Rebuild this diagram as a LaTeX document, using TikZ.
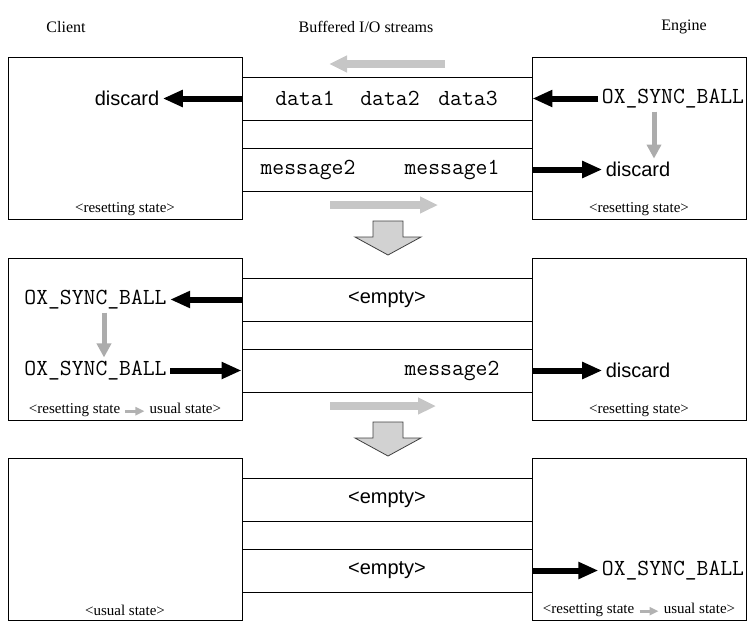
\documentclass[tikz,border=0pt]{standalone}
\usepackage{fontspec}
\setmainfont{Liberation Serif}
\newfontfamily\helv{Liberation Sans}
\usetikzlibrary{arrows.meta}

% small grey arrow used inside the state captions
\newcommand\stategoes{\tikz[baseline=-0.35ex,x=1pt,y=1pt]\draw[line width=3pt,draw=gray!60,-{Triangle[length=9pt,width=8pt]}] (0,0)--(19,0);}
% big hollow arrow between two stages
\newcommand\stagedown[1]{\filldraw[draw=black!75,fill=gray!35,line width=.8pt] (#1) ++(-15,0) -- ++(0,16) -- ++(-18,0) -- ++(33,18) -- ++(33,-18) -- ++(-18,0) -- ++(0,-16) -- cycle;}

\begin{document}
\begin{tikzpicture}[x=1pt,y=-1pt,
  side/.style={draw,line width=.9pt,minimum height=162pt,inner sep=0pt},
  client/.style={side,minimum width=234pt},
  engine/.style={side,minimum width=214pt},
  stream/.style={draw,line width=.9pt,minimum width=290pt,minimum height=43pt,inner sep=0pt},
  head/.style={font=\fontsize{16}{19}\selectfont},
  lbl/.style={font=\helv\fontsize{20}{24}\selectfont},
  code/.style={font=\ttfamily\fontsize{23}{26}\selectfont},
  state/.style={font=\fontsize{15}{18}\selectfont},
  push/.style={line width=6pt,-{Triangle[length=20pt,width=16pt]}},
  flow/.style={line width=8pt,draw=gray!45,-{Triangle[length=18pt,width=16pt]}},
  turn/.style={line width=5pt,draw=gray!65,-{Triangle[length=14pt,width=14pt]}}]
\useasboundingbox (0,0) rectangle (754,626);

\node[head] (hclient) at (66,27) {Client};
\node[head] (hstreams) at (366,27) {Buffered I/O streams};
\node[head] (hengine) at (684,27) {Engine};

% stage 1
\node[client] (c1) at (125,138) {};
\node[engine] (e1) at (639,138) {};
\node[stream] (s1a) at (387,98.5) {};
\node[stream] (s1b) at (387,169.5) {};
\node[code] (d1) at (305,98.5) {data1};
\node[code] (d2) at (390,98.5) {data2};
\node[code] (d3) at (468,98.5) {data3};
\node[code] (m12) at (308,169.5) {message2};
\node[code] (m11) at (452,169.5) {message1};
\node[lbl] (cdis1) at (127,98.5) {discard};
\node[code] (eox1) at (673,98.5) {OX\_SYNC\_BALL};
\node[lbl] (edis1) at (638,169.5) {discard};
\node[state] (cst1) at (125,209) {<resetting state>};
\node[state] (est1) at (639,209) {<resetting state>};
\draw[push] (s1a.west) -- (cdis1.east);
\draw[push] (eox1.west) -- (s1a.east);
\draw[push] (s1b.east) -- (edis1.west);
\draw[turn] ([xshift=-19pt]eox1.south) -- ([xshift=16pt]edis1.north);
\coordinate (back1) at (387,64);
\coordinate (fwd1) at (387,205);
\draw[flow] (back1) ++(58,0) -- ++(-116,0);
\draw[flow] (fwd1) ++(-57,0) -- ++(108,0);
\coordinate (next1) at (388,221);
\stagedown{next1}

% stage 2
\node[client] (c2) at (125,339) {};
\node[engine] (e2) at (639,339) {};
\node[stream] (s2a) at (387,299.5) {};
\node[stream] (s2b) at (387,370.5) {};
\node[lbl] (emp2) at (387,299.5) {<empty>};
\node[code] (m22) at (452,370.5) {message2};
\node[code] (cox2a) at (95.5,299.5) {OX\_SYNC\_BALL};
\node[code] (cox2b) at (95.5,370.5) {OX\_SYNC\_BALL};
\node[lbl] (edis2) at (638,370.5) {discard};
\node[state] (cst2) at (125,410) {<resetting state \stategoes{} usual state>};
\node[state] (est2) at (639,410) {<resetting state>};
\draw[push] (s2a.west) -- (cox2a.east);
\draw[push] (cox2b.east) -- (s2b.west);
\draw[push] (s2b.east) -- (edis2.west);
\draw[turn] ([xshift=8.5pt]cox2a.south) -- ([xshift=8.5pt]cox2b.north);
\coordinate (fwd2) at (387,406);
\draw[flow] (fwd2) ++(-57,0) -- ++(106,0);
\coordinate (next2) at (388,422);
\stagedown{next2}

% stage 3
\node[client] (c3) at (125,539) {};
\node[engine] (e3) at (639,539) {};
\node[stream] (s3a) at (387,499.5) {};
\node[stream] (s3b) at (387,570.5) {};
\node[lbl] (emp3a) at (387,499.5) {<empty>};
\node[lbl] (emp3b) at (387,570.5) {<empty>};
\node[code] (eox3) at (673,570.5) {OX\_SYNC\_BALL};
\node[state] (cst3) at (125,610) {<usual state>};
\node[state] (est3) at (639,610) {<resetting state \stategoes{} usual state>};
\draw[push] (s3b.east) -- (eox3.west);
\end{tikzpicture}
\end{document}
